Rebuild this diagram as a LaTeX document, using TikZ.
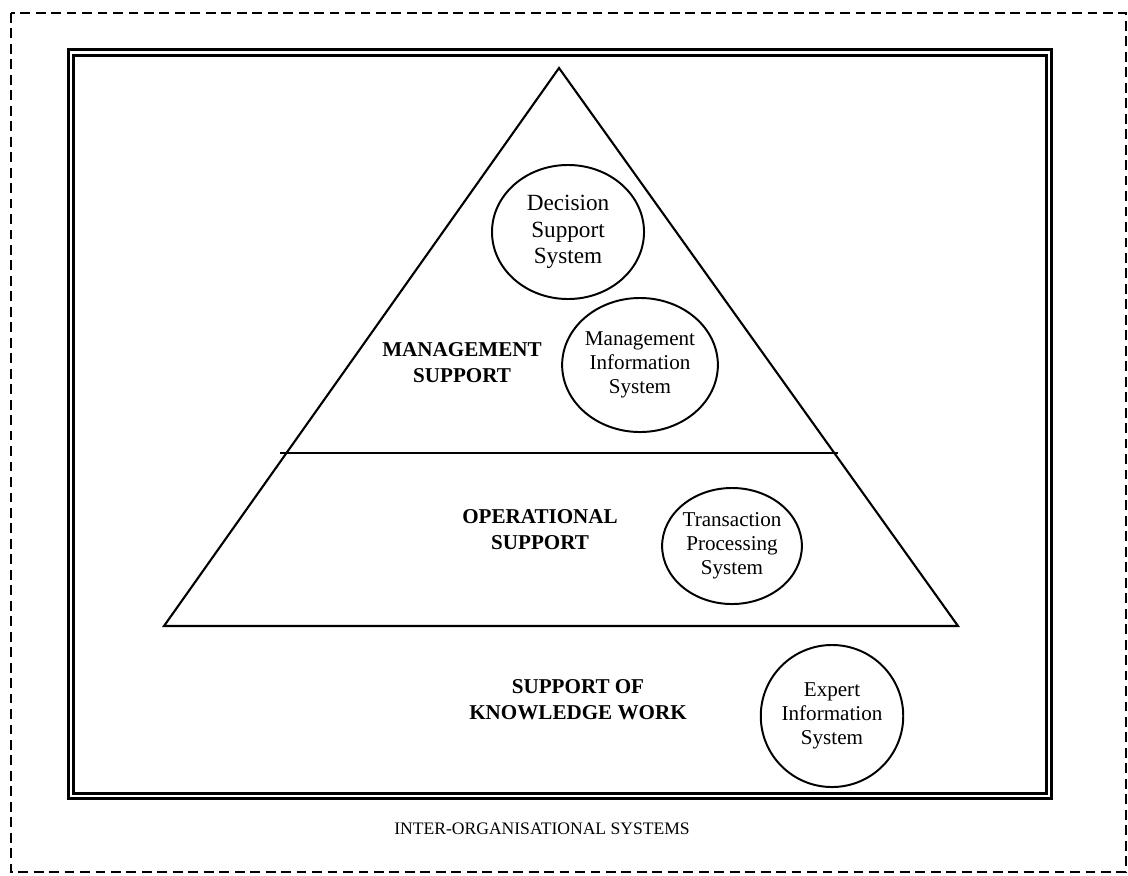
\documentclass[tikz,border=0pt]{standalone}
\usepackage{fontspec}
\setmainfont{Liberation Serif}
\usetikzlibrary{shapes.geometric}

\begin{document}
\begin{tikzpicture}[x=0.025cm, y=-0.025cm,
  sysnode/.style={ellipse, draw=black, line width=1.4pt, inner sep=0pt,
                  align=center, font=\fontsize{15}{17}\selectfont},
  lvlnode/.style={align=center, font=\fontsize{15}{18.5}\selectfont\bfseries},
  triline/.style={line width=1.5pt, draw=black}
]
\useasboundingbox (0,0) rectangle (1128,875);

% Frames
\coordinate (frameNW) at (11,13);
\coordinate (frameSE) at (1126,872);
\draw[line width=1.3pt, dash pattern=on 7pt off 4pt] (frameNW) rectangle (frameSE);
\coordinate (boxNW) at (71,52.5);
\coordinate (boxSE) at (1049,796);
\draw[line width=2.1pt, double, double distance=2pt] (boxNW) rectangle (boxSE);

% Pyramid
\coordinate (apex)  at (559,68);
\coordinate (baseL) at (164,626);
\coordinate (baseR) at (958,626);
\coordinate (midL)  at (280,453);
\coordinate (midR)  at (838,453);
\draw[triline] (apex) -- (baseR) -- (baseL) -- cycle;
\draw[triline] (midL) -- (midR);

% Systems
\node[sysnode, minimum width=3.8cm, minimum height=3.35cm,
      font=\fontsize{16.5}{19}\selectfont] (dss) at (568,232)
    {Decision\\Support\\System};
\node[sysnode, minimum width=3.625cm, minimum height=3.35cm] (mis) at (640,365)
    {Management\\Information\\System};
\node[sysnode, minimum width=3.4cm, minimum height=2.9cm] (tps) at (732,546)
    {Transaction\\Processing\\System};
\node[sysnode, minimum width=3.525cm, minimum height=3.55cm] (eis) at (832,716)
    {Expert\\Information\\System};

% Levels
\node[lvlnode] (mgmt) at (462,363) {MANAGEMENT\\SUPPORT};
\node[lvlnode] (oper) at (540,530) {OPERATIONAL\\SUPPORT};
\node[lvlnode] (know) at (578,700) {SUPPORT OF\\KNOWLEDGE WORK};

% Outer label
\node[font=\fontsize{12.5}{15}\selectfont] (inter) at (542,829)
    {INTER-ORGANISATIONAL SYSTEMS};

\end{tikzpicture}
\end{document}
